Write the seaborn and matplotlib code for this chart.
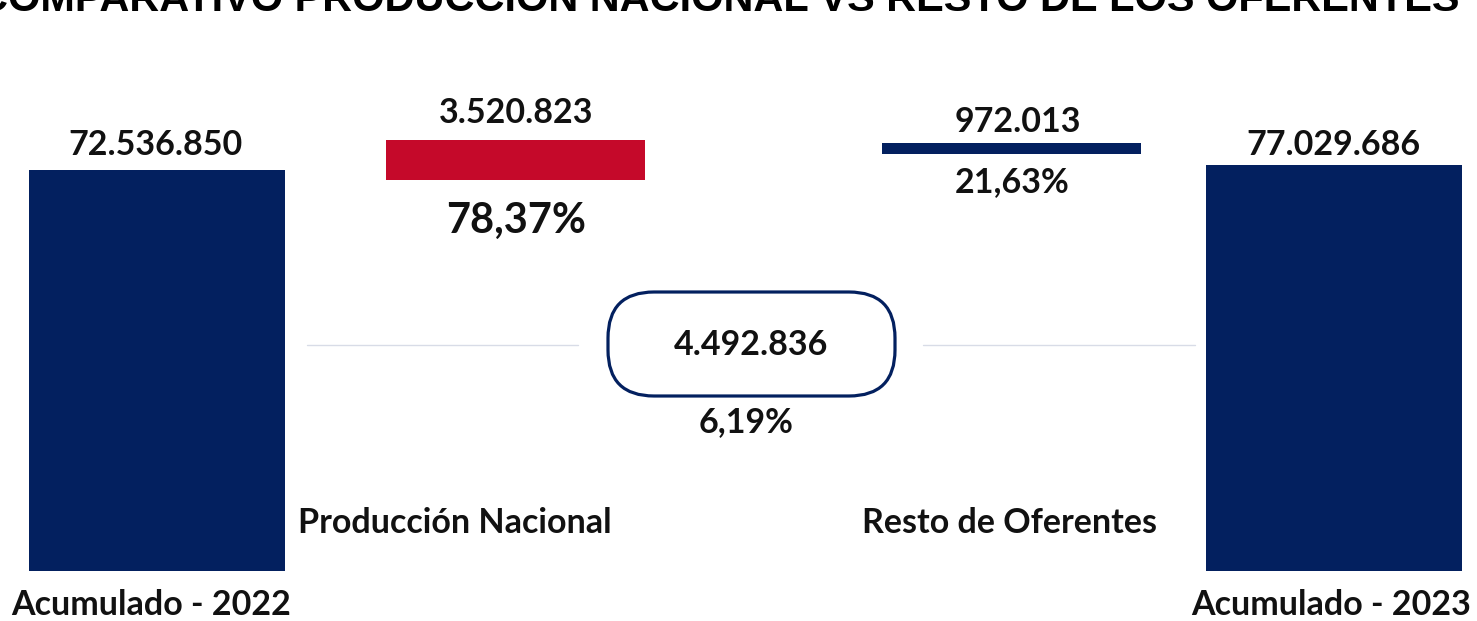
import numpy as np
import pandas as pd
import matplotlib
matplotlib.use("Agg")
import matplotlib.pyplot as plt
import seaborn as sns
from matplotlib.patches import FancyBboxPatch

# ---------------- data ----------------
periodos = ["Acumulado - 2022", "Acumulado - 2023"]
totales = [72536850, 77029686]
componentes = ["Producción Nacional", "Resto de Oferentes"]
variaciones = [3520823, 972013]
titulo = "COMPARATIVO PRODUCCIÓN NACIONAL VS RESTO DE LOS OFERENTES"

delta = totales[1] - totales[0]
pct_comp = [v / delta * 100 for v in variaciones]
pct_total = delta / totales[0] * 100


def miles(v):
    return f"{v:,}".replace(",", ".")


def pct(p):
    return f"{p:.2f}".replace(".", ",") + "%"


# ---------------- style ----------------
W, H = 1477, 621
NAVY = "#03205f"
RED = "#c5092a"
LINE = "#d8dce7"
TXT = "#111111"
sns.set_theme(style="white")
plt.rcParams["font.family"] = ["Lato", "DejaVu Sans"]

fig = plt.figure(figsize=(W / 100, H / 100), dpi=100)
fig.patch.set_facecolor("white")

# ---------------- main bars ----------------
base_px = 571
ax = fig.add_axes([0, (H - base_px) / H, 1, base_px / H])
x_main = [157, 1334]
df = pd.DataFrame({"x": x_main, "total": totales, "periodo": periodos})
sns.barplot(data=df, x="x", y="total", native_scale=True,
            width=256 / (x_main[1] - x_main[0]), color=NAVY, saturation=1,
            errorbar=None, linewidth=0, ax=ax)
p = 0.2
ax.set_yscale("function", functions=(
    lambda y: np.power(np.clip(y, 0, None), p),
    lambda y: np.power(np.clip(y, 0, None), 1 / p)))
top_frac = (base_px - 170) / base_px
ax.set_ylim(0, (totales[0] ** p / top_frac) ** (1 / p))
ax.set_xlim(0, W)
ax.axis("off")

# ---------------- floating bars ----------------
axf = fig.add_axes([0, 0, 1, 1])
k = 88020  # value units per pixel
axf.set_xlim(0, W)
axf.set_ylim(0, H * k)
x_float = [515.5, 1011.5]
bottom_px = [180, 154]
axf.bar(x_float, variaciones, bottom=[(H - b) * k for b in bottom_px],
        width=259, color=[RED, NAVY], linewidth=0)
axf.axis("off")

# ---------------- overlay: box, lines, text ----------------
axo = fig.add_axes([0, 0, 1, 1])
axo.set_xlim(0, W)
axo.set_ylim(H, 0)
axo.axis("off")

axo.plot([307, 578], [344.5, 344.5], color=LINE, lw=1)
axo.plot([923, 1195], [344.5, 344.5], color=LINE, lw=1)
box = FancyBboxPatch((608, 292), 287, 104,
                     boxstyle="round,pad=0,rounding_size=46",
                     fc="white", ec=NAVY, lw=2.3)
axo.add_patch(box)


def t(x, y, s, size=24.5, ha="center", **kw):
    axo.text(x, y, s, ha=ha, va="baseline", fontsize=size,
             fontweight="bold", color=TXT, clip_on=False, **kw)


t(156, 155, miles(totales[0]))
t(1333, 155, miles(totales[1]))
t(516, 123, miles(variaciones[0]))
t(516, 233, pct(pct_comp[0]), size=30)
t(1018, 132, miles(variaciones[1]))
t(1012, 192, pct(pct_comp[1]))
t(751, 355, miles(delta))
t(746, 432, pct(pct_total))
t(298, 533, componentes[0], ha="left")
t(1010, 533, componentes[1])
t(11, 615, periodos[0], ha="left")
t(1191, 615, periodos[1], ha="left")

axo.text(1460, 11, titulo, ha="right", va="baseline", fontsize=29.85,
         fontweight="bold", color="black", clip_on=False,
         family=["Liberation Sans", "DejaVu Sans"])

fig.savefig("out.png", dpi=100, facecolor="white")
